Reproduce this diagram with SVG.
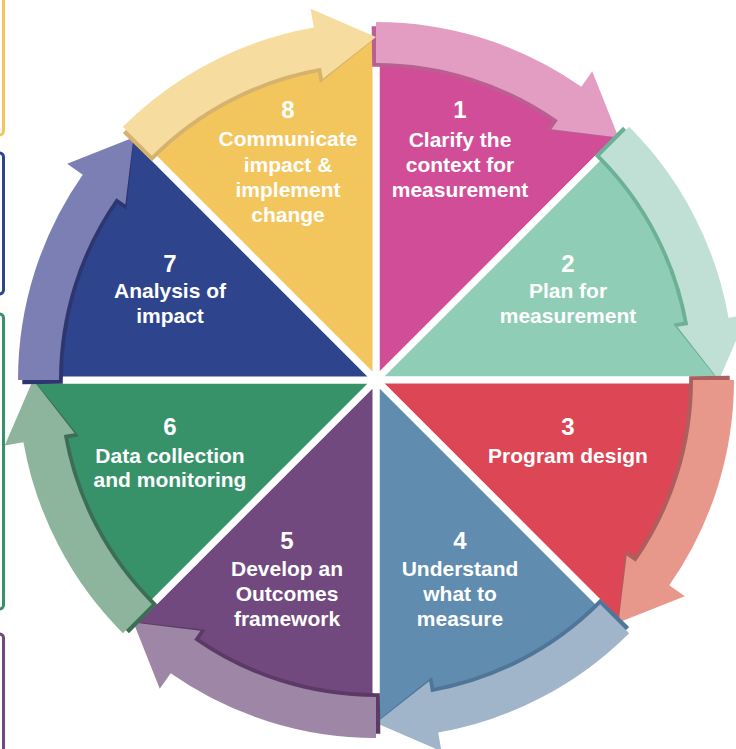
<svg xmlns="http://www.w3.org/2000/svg" xmlns:xlink="http://www.w3.org/1999/xlink" width="736" height="749" viewBox="0 0 736 749">
<style>
.wedge{stroke:#ffffff;stroke-width:7;stroke-linejoin:round}
.num{font-family:"Liberation Sans",Arial,sans-serif;font-weight:bold;font-size:24px;fill:#ffffff;text-anchor:middle}
.lbl{font-family:"Liberation Sans",Arial,sans-serif;font-weight:bold;font-size:21px;fill:#ffffff;text-anchor:middle}
.edge{fill:none;stroke-width:3}
</style>
<defs>
<path id="wedge" d="M0,0 L0,-346 A346,346 0 0 1 244.66,-244.66 Z"/>
<path id="arrow" d="M0,-358 A358,358 0 0 1 205.34,-293.26 L216.24,-308.82 L242.54,-242.54 L175.51,-250.66 L181.82,-259.67 A317,317 0 0 0 0,-317 Z"/>
<path id="shadow" d="M0,-358 A358,358 0 0 1 205.34,-293.26 L242.54,-242.54 L175.51,-250.66 L181.82,-259.67 A317,317 0 0 0 0,-317 Z"/>
</defs>
<rect width="736" height="749" fill="#ffffff"/>
<g id="side-edges">
<rect class="edge" x="-100" y="-20" width="103.5" height="155" rx="4" stroke="#f3c55d"/>
<rect class="edge" x="-100" y="153" width="103.5" height="141" rx="4" stroke="#2e458e"/>
<rect class="edge" x="-100" y="314" width="103.5" height="295" rx="4" stroke="#37926a"/>
<rect class="edge" x="-100" y="634" width="103.5" height="200" rx="4" stroke="#72497e"/>
</g>
<g id="node1">
<use xlink:href="#wedge" href="#wedge" class="wedge" fill="#d14d97" transform="translate(376,380) rotate(0)"/>
<text class="num" x="460" y="118">1</text>
<text class="lbl" x="460" y="147">Clarify the</text>
<text class="lbl" x="460" y="172">context for</text>
<text class="lbl" x="460" y="197">measurement</text>
</g>
<g id="node2">
<use xlink:href="#wedge" href="#wedge" class="wedge" fill="#8fcdb7" transform="translate(376,380) rotate(45)"/>
<text class="num" x="568" y="272">2</text>
<text class="lbl" x="568" y="298">Plan for</text>
<text class="lbl" x="568" y="323">measurement</text>
</g>
<g id="node3">
<use xlink:href="#wedge" href="#wedge" class="wedge" fill="#dc4655" transform="translate(376,380) rotate(90)"/>
<text class="num" x="568" y="435">3</text>
<text class="lbl" x="568" y="463">Program design</text>
</g>
<g id="node4">
<use xlink:href="#wedge" href="#wedge" class="wedge" fill="#5f8caf" transform="translate(376,380) rotate(135)"/>
<text class="num" x="460" y="549">4</text>
<text class="lbl" x="460" y="576">Understand</text>
<text class="lbl" x="460" y="601">what to</text>
<text class="lbl" x="460" y="626">measure</text>
</g>
<g id="node5">
<use xlink:href="#wedge" href="#wedge" class="wedge" fill="#72497e" transform="translate(376,380) rotate(180)"/>
<text class="num" x="287" y="549">5</text>
<text class="lbl" x="287" y="576">Develop an</text>
<text class="lbl" x="287" y="601">Outcomes</text>
<text class="lbl" x="287" y="626">framework</text>
</g>
<g id="node6">
<use xlink:href="#wedge" href="#wedge" class="wedge" fill="#37926a" transform="translate(376,380) rotate(225)"/>
<text class="num" x="170" y="435">6</text>
<text class="lbl" x="170" y="463">Data collection</text>
<text class="lbl" x="170" y="487">and monitoring</text>
</g>
<g id="node7">
<use xlink:href="#wedge" href="#wedge" class="wedge" fill="#2e458e" transform="translate(376,380) rotate(270)"/>
<text class="num" x="170" y="272">7</text>
<text class="lbl" x="170" y="298">Analysis of</text>
<text class="lbl" x="170" y="323">impact</text>
</g>
<g id="node8">
<use xlink:href="#wedge" href="#wedge" class="wedge" fill="#f3c55d" transform="translate(376,380) rotate(315)"/>
<text class="num" x="288" y="118">8</text>
<text class="lbl" x="288" y="146">Communicate</text>
<text class="lbl" x="288" y="172">impact &amp;</text>
<text class="lbl" x="288" y="197">implement</text>
<text class="lbl" x="288" y="222">change</text>
</g>
<g id="connectors">
<use xlink:href="#shadow" href="#shadow" fill="#bb5f93" transform="translate(376,380) rotate(-0.7) scale(0.988)"/>
<use xlink:href="#arrow" href="#arrow" fill="#e39cc2" transform="translate(376,380) rotate(0)"/>
<use xlink:href="#shadow" href="#shadow" fill="#6cb096" transform="translate(376,380) rotate(44.3) scale(0.988)"/>
<use xlink:href="#arrow" href="#arrow" fill="#c0e0d6" transform="translate(376,380) rotate(45)"/>
<use xlink:href="#shadow" href="#shadow" fill="#ab5f5f" transform="translate(376,380) rotate(89.3) scale(0.988)"/>
<use xlink:href="#arrow" href="#arrow" fill="#e8978b" transform="translate(376,380) rotate(90)"/>
<use xlink:href="#shadow" href="#shadow" fill="#4f7698" transform="translate(376,380) rotate(134.3) scale(0.988)"/>
<use xlink:href="#arrow" href="#arrow" fill="#a0b4ca" transform="translate(376,380) rotate(135)"/>
<use xlink:href="#shadow" href="#shadow" fill="#5c3a66" transform="translate(376,380) rotate(179.3) scale(0.988)"/>
<use xlink:href="#arrow" href="#arrow" fill="#9e86a6" transform="translate(376,380) rotate(180)"/>
<use xlink:href="#shadow" href="#shadow" fill="#3c6e55" transform="translate(376,380) rotate(224.3) scale(0.988)"/>
<use xlink:href="#arrow" href="#arrow" fill="#8db59e" transform="translate(376,380) rotate(225)"/>
<use xlink:href="#shadow" href="#shadow" fill="#2e3670" transform="translate(376,380) rotate(269.3) scale(0.988)"/>
<use xlink:href="#arrow" href="#arrow" fill="#7b7fb3" transform="translate(376,380) rotate(270)"/>
<use xlink:href="#shadow" href="#shadow" fill="#d5b36e" transform="translate(376,380) rotate(314.3) scale(0.988)"/>
<use xlink:href="#arrow" href="#arrow" fill="#f7dca0" transform="translate(376,380) rotate(315)"/>
</g>
</svg>
